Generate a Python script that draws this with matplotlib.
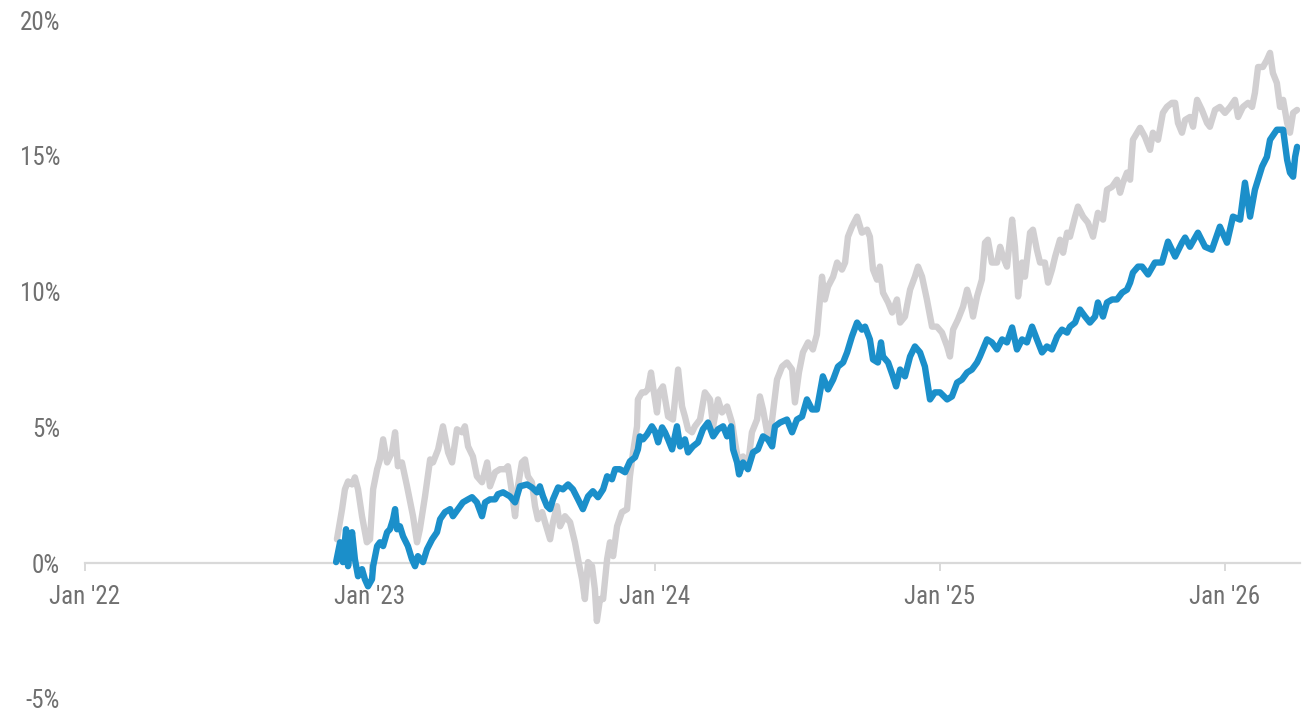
import matplotlib
matplotlib.use("Agg")
import matplotlib.pyplot as plt

plt.rcParams["font.family"] = ["Roboto Condensed", "Roboto", "DejaVu Sans"]

# Time in decimal years, values are cumulative returns in percent
gray_t = [2022.884, 2022.902, 2022.912, 2022.923, 2022.937, 2022.947, 2022.958, 2022.972, 2022.989, 2023.000,
          2023.011, 2023.025, 2023.035, 2023.046, 2023.060, 2023.077, 2023.088, 2023.098, 2023.112, 2023.130,
          2023.151, 2023.165, 2023.175, 2023.193, 2023.211, 2023.221, 2023.239, 2023.256, 2023.274, 2023.288,
          2023.305, 2023.323, 2023.333, 2023.344, 2023.361, 2023.375, 2023.393, 2023.411, 2023.421, 2023.439,
          2023.456, 2023.474, 2023.484, 2023.498, 2023.509, 2023.519, 2023.533, 2023.544, 2023.554, 2023.568,
          2023.579, 2023.589, 2023.604, 2023.614, 2023.632, 2023.642, 2023.656, 2023.667, 2023.684, 2023.702,
          2023.719, 2023.730, 2023.744, 2023.754, 2023.765, 2023.779, 2023.789, 2023.796, 2023.807, 2023.818,
          2023.832, 2023.842, 2023.853, 2023.867, 2023.884, 2023.902, 2023.912, 2023.923, 2023.937, 2023.940,
          2023.954, 2023.965, 2023.975, 2023.986, 2023.993, 2024.007, 2024.014, 2024.028, 2024.046, 2024.063,
          2024.081, 2024.095, 2024.105, 2024.116, 2024.130, 2024.140, 2024.158, 2024.175, 2024.193, 2024.204,
          2024.221, 2024.235, 2024.253, 2024.270, 2024.281, 2024.291, 2024.309, 2024.326, 2024.340, 2024.358,
          2024.368, 2024.379, 2024.396, 2024.411, 2024.428, 2024.446, 2024.463, 2024.481, 2024.491, 2024.505,
          2024.519, 2024.537, 2024.554, 2024.568, 2024.586, 2024.596, 2024.607, 2024.625, 2024.639, 2024.656,
          2024.667, 2024.677, 2024.691, 2024.709, 2024.726, 2024.744, 2024.754, 2024.765, 2024.779, 2024.789,
          2024.800, 2024.818, 2024.832, 2024.849, 2024.860, 2024.877, 2024.895, 2024.912, 2024.923, 2024.937,
          2024.954, 2024.972, 2024.989, 2025.007, 2025.025, 2025.035, 2025.046, 2025.063, 2025.081, 2025.095,
          2025.105, 2025.116, 2025.130, 2025.147, 2025.158, 2025.168, 2025.182, 2025.200, 2025.211, 2025.221,
          2025.235, 2025.253, 2025.263, 2025.274, 2025.288, 2025.298, 2025.316, 2025.326, 2025.340, 2025.351,
          2025.368, 2025.379, 2025.393, 2025.404, 2025.421, 2025.432, 2025.446, 2025.456, 2025.474, 2025.484,
          2025.502, 2025.519, 2025.537, 2025.554, 2025.572, 2025.586, 2025.604, 2025.621, 2025.632, 2025.642,
          2025.656, 2025.667, 2025.677, 2025.702, 2025.719, 2025.737, 2025.747, 2025.765, 2025.782, 2025.796,
          2025.814, 2025.825, 2025.835, 2025.849, 2025.860, 2025.877, 2025.888, 2025.902, 2025.919, 2025.937,
          2025.947, 2025.965, 2025.982, 2026.000, 2026.018, 2026.035, 2026.046, 2026.063, 2026.081, 2026.095,
          2026.105, 2026.116, 2026.133, 2026.147, 2026.158, 2026.168, 2026.182, 2026.193, 2026.204, 2026.218,
          2026.228, 2026.239, 2026.253]
gray_v = [0.88, 1.99, 2.72, 3.01, 2.90, 3.16, 2.72, 1.73, 0.77, 0.88,
          2.72, 3.46, 3.82, 4.56, 3.71, 4.08, 4.82, 3.57, 3.71, 2.83,
          1.73, 0.77, 1.25, 2.46, 3.82, 3.71, 4.19, 5.04, 4.08, 3.71,
          4.93, 4.82, 5.04, 4.30, 3.93, 3.20, 2.98, 3.71, 2.83, 3.35,
          3.46, 3.46, 3.57, 2.61, 1.73, 2.83, 3.71, 3.82, 3.20, 2.98,
          2.10, 1.62, 1.88, 1.51, 0.88, 1.51, 2.10, 1.36, 1.73, 1.51,
          0.77, 0.15, -0.59, -1.32, 0.04, -0.11, -0.96, -2.13, -1.32, -1.32,
          0.15, 0.77, 0.26, 1.36, 1.88, 1.99, 3.20, 4.08, 5.04, 6.03,
          6.29, 6.29, 6.40, 7.02, 6.51, 5.55, 6.29, 6.51, 5.40, 5.29,
          7.13, 5.77, 5.40, 4.93, 4.82, 5.04, 5.29, 6.29, 6.03, 5.04,
          6.03, 5.55, 5.77, 5.18, 4.45, 3.82, 3.93, 3.57, 4.82, 5.29,
          6.14, 5.66, 4.67, 5.29, 6.76, 7.24, 7.39, 7.13, 5.92, 7.02,
          7.76, 8.13, 7.87, 8.42, 10.55, 9.71, 10.18, 10.55, 11.07, 10.81,
          11.07, 12.02, 12.39, 12.76, 12.17, 12.28, 12.02, 10.81, 10.44, 10.92,
          9.96, 9.60, 9.23, 9.71, 8.86, 9.08, 10.07, 10.55, 10.92, 10.55,
          9.71, 8.71, 8.71, 8.49, 7.98, 7.61, 8.60, 8.97, 9.45, 10.07,
          9.71, 9.08, 9.82, 10.44, 11.80, 11.91, 11.07, 11.07, 11.65, 11.29,
          10.92, 12.65, 11.65, 9.82, 11.07, 10.55, 12.17, 12.28, 11.54, 11.07,
          11.07, 10.33, 10.81, 11.29, 11.91, 11.43, 12.17, 12.02, 12.76, 13.13,
          12.76, 12.54, 12.02, 12.90, 12.65, 13.75, 13.86, 14.12, 13.64, 14.01,
          14.38, 14.12, 15.59, 16.03, 15.70, 15.22, 15.85, 15.59, 16.58, 16.80,
          16.95, 16.95, 16.21, 15.85, 16.32, 16.43, 16.07, 17.06, 16.69, 16.21,
          16.07, 16.69, 16.80, 16.58, 16.80, 17.06, 16.43, 16.80, 16.95, 16.80,
          17.32, 18.27, 18.27, 18.53, 18.79, 18.05, 17.68, 16.80, 17.06, 16.21,
          15.85, 16.58, 16.69]

blue_t = [2022.881, 2022.895, 2022.905, 2022.916, 2022.923, 2022.937, 2022.947, 2022.958, 2022.972, 2022.982,
          2022.993, 2023.007, 2023.011, 2023.025, 2023.035, 2023.046, 2023.060, 2023.070, 2023.081, 2023.088,
          2023.095, 2023.105, 2023.116, 2023.133, 2023.147, 2023.158, 2023.168, 2023.186, 2023.200, 2023.218,
          2023.235, 2023.246, 2023.263, 2023.281, 2023.291, 2023.309, 2023.326, 2023.344, 2023.358, 2023.375,
          2023.393, 2023.404, 2023.421, 2023.439, 2023.449, 2023.467, 2023.491, 2023.509, 2023.526, 2023.551,
          2023.568, 2023.586, 2023.596, 2023.607, 2023.621, 2023.632, 2023.642, 2023.660, 2023.677, 2023.695,
          2023.712, 2023.730, 2023.747, 2023.765, 2023.782, 2023.800, 2023.818, 2023.832, 2023.849, 2023.860,
          2023.877, 2023.895, 2023.912, 2023.930, 2023.940, 2023.947, 2023.958, 2023.972, 2023.989, 2024.000,
          2024.011, 2024.025, 2024.035, 2024.046, 2024.060, 2024.077, 2024.088, 2024.105, 2024.116, 2024.133,
          2024.151, 2024.168, 2024.186, 2024.204, 2024.221, 2024.239, 2024.253, 2024.267, 2024.274, 2024.288,
          2024.295, 2024.309, 2024.326, 2024.344, 2024.361, 2024.379, 2024.396, 2024.411, 2024.421, 2024.439,
          2024.463, 2024.481, 2024.498, 2024.516, 2024.533, 2024.551, 2024.568, 2024.589, 2024.607, 2024.625,
          2024.642, 2024.660, 2024.674, 2024.691, 2024.709, 2024.726, 2024.737, 2024.754, 2024.765, 2024.782,
          2024.793, 2024.800, 2024.818, 2024.835, 2024.846, 2024.860, 2024.877, 2024.895, 2024.912, 2024.930,
          2024.947, 2024.965, 2024.982, 2025.000, 2025.025, 2025.042, 2025.060, 2025.077, 2025.095, 2025.112,
          2025.130, 2025.140, 2025.165, 2025.182, 2025.200, 2025.218, 2025.235, 2025.253, 2025.270, 2025.288,
          2025.305, 2025.323, 2025.340, 2025.358, 2025.375, 2025.393, 2025.411, 2025.428, 2025.446, 2025.456,
          2025.474, 2025.491, 2025.509, 2025.526, 2025.544, 2025.554, 2025.572, 2025.586, 2025.604, 2025.621,
          2025.639, 2025.656, 2025.667, 2025.677, 2025.695, 2025.709, 2025.730, 2025.754, 2025.779, 2025.800,
          2025.825, 2025.849, 2025.860, 2025.877, 2025.905, 2025.930, 2025.954, 2025.982, 2026.007, 2026.028,
          2026.053, 2026.070, 2026.088, 2026.105, 2026.130, 2026.147, 2026.158, 2026.182, 2026.204, 2026.218,
          2026.228, 2026.239, 2026.246, 2026.253]
blue_v = [0.04, 0.77, 0.04, 1.25, -0.11, 1.14, 0.15, -0.48, -0.22, -0.59,
          -0.85, -0.59, -0.11, 0.63, 0.77, 0.63, 1.14, 1.25, 1.62, 1.99,
          1.25, 1.36, 0.99, 0.63, 0.15, -0.11, 0.26, 0.04, 0.51, 0.88,
          1.14, 1.62, 1.88, 1.99, 1.73, 1.99, 2.24, 2.35, 2.43, 2.24,
          1.73, 2.24, 2.35, 2.35, 2.54, 2.61, 2.46, 2.24, 2.83, 2.90,
          2.79, 2.61, 2.83, 2.46, 2.10, 1.99, 2.35, 2.79, 2.72, 2.90,
          2.72, 2.35, 1.99, 2.46, 2.65, 2.43, 2.72, 3.20, 3.09, 3.46,
          3.46, 3.35, 3.75, 3.90, 4.19, 4.67, 4.56, 4.74, 5.04, 4.85,
          4.45, 5.00, 4.82, 4.56, 4.19, 5.04, 4.30, 4.56, 4.08, 4.30,
          4.45, 4.93, 5.18, 4.67, 4.93, 5.04, 4.67, 5.04, 4.19, 3.71,
          3.27, 3.71, 3.46, 4.08, 4.19, 4.67, 4.56, 4.30, 5.04, 5.18,
          5.29, 4.82, 5.29, 5.40, 6.03, 5.66, 5.66, 6.88, 6.40, 6.76,
          7.24, 7.39, 7.76, 8.35, 8.86, 8.60, 8.71, 8.24, 7.50, 7.39,
          8.13, 7.61, 7.39, 6.88, 6.51, 7.13, 6.88, 7.61, 7.98, 7.76,
          7.24, 6.03, 6.29, 6.29, 6.03, 6.14, 6.65, 6.76, 7.02, 7.13,
          7.39, 7.61, 8.24, 8.13, 7.87, 8.24, 8.13, 8.68, 7.87, 8.24,
          8.13, 8.71, 8.24, 7.76, 7.98, 7.87, 8.35, 8.60, 8.49, 8.71,
          8.86, 9.34, 9.08, 8.86, 9.08, 9.60, 9.08, 9.60, 9.71, 9.71,
          9.96, 10.07, 10.33, 10.70, 10.92, 10.92, 10.63, 11.07, 11.07, 11.84,
          11.29, 11.80, 11.99, 11.65, 12.17, 11.65, 11.54, 12.39, 11.80, 12.76,
          12.65, 14.01, 12.76, 13.75, 14.60, 14.96, 15.59, 15.96, 15.96, 14.85,
          14.38, 14.23, 14.96, 15.33]

tick_years = [2022, 2023, 2024, 2025, 2026]
tick_labels = ["Jan '22", "Jan '23", "Jan '24", "Jan '25", "Jan '26"]
y_ticks = [-5, 0, 5, 10, 15, 20]
y_labels = ["-5%", "0%", "5%", "10%", "15%", "20%"]

GRAY = "#d1cfd1"
BLUE = "#1b8fca"
AXIS = "#d9d9d9"
TEXT = "#707070"

fig = plt.figure(figsize=(13.04, 7.11), dpi=100)
ax = fig.add_axes([85 / 1304, 1 - 699 / 711, (1300 - 85) / 1304, 679 / 711])

ax.plot(gray_t, gray_v, color=GRAY, lw=4.6, solid_joinstyle="round", solid_capstyle="round", zorder=2)
ax.plot(blue_t, blue_v, color=BLUE, lw=4.6, solid_joinstyle="round", solid_capstyle="round", zorder=3)

ax.set_xlim(2022, 2022 + (1300 - 85) / 285)
ax.set_ylim(-5, 20)

for side in ("top", "right", "left"):
    ax.spines[side].set_visible(False)
ax.spines["bottom"].set_position(("data", 0))
ax.spines["bottom"].set_color(AXIS)
ax.spines["bottom"].set_linewidth(1.6)
ax.spines["bottom"].set_zorder(1)

ax.set_xticks(tick_years)
ax.set_xticklabels(tick_labels)
ax.tick_params(axis="x", length=6, width=1.4, color=AXIS, pad=10,
               labelsize=18, labelcolor=TEXT)
ax.set_yticks(y_ticks)
ax.set_yticklabels(y_labels)
ax.tick_params(axis="y", length=0, pad=18, labelsize=18, labelcolor=TEXT)

fig.savefig("out.png", dpi=100)
